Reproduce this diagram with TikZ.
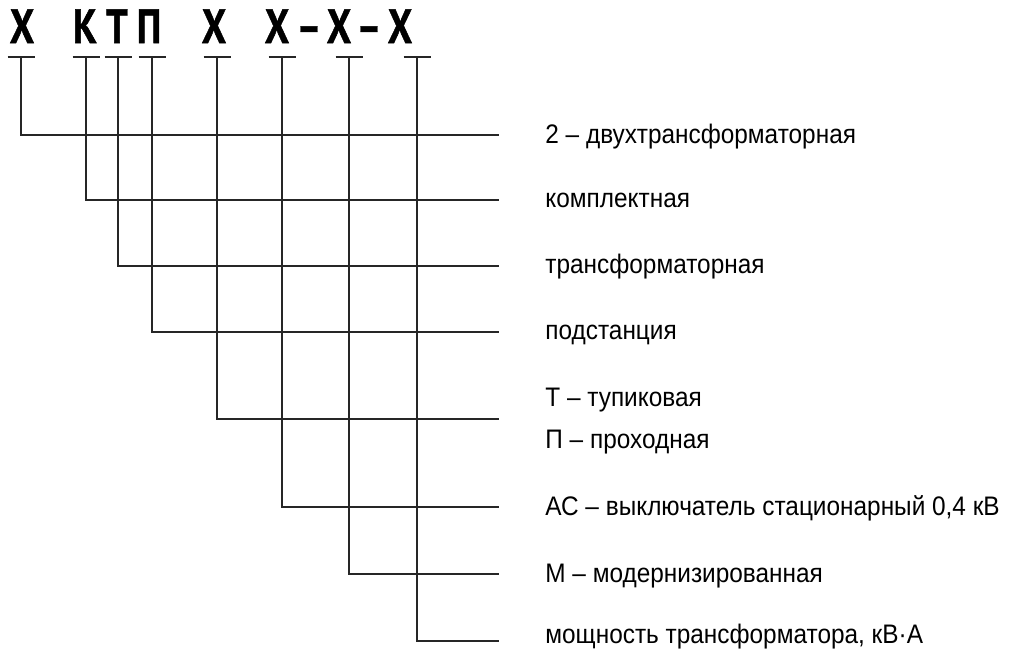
\documentclass[tikz,border=0pt]{standalone}
\usepackage{fontspec}
\setmainfont{Liberation Sans}
\newfontfamily\codefamily{PT Sans}[BoldFeatures={FakeBold=1.2}]
\newfontfamily\lblfamily{Liberation Sans}[FakeStretch=0.91]
\newcommand\narrowch[1]{\scalebox{0.8}[1]{#1}}

\begin{document}
\begin{tikzpicture}[
  x=0.5pt,
  y=-0.5pt,
  code/.style={font=\codefamily\bfseries\fontsize{24pt}{26pt}\selectfont,
    anchor=base,inner sep=0pt},
  lbl/.style={font=\lblfamily\fontsize{13.4pt}{16pt}\selectfont,
    anchor=base west,inner sep=0pt},
  lead/.style={black!85,line width=0.55pt}
]
  \useasboundingbox (0,0) rectangle (1014,649);
  \def\tickrow{57}
  \def\leadend{499}
  \def\lblx{545}

  % Designation letters.
  \foreach \n/\cx/\ch in {c1/22/Х,c2/85/К,c3/117/Т,c4/149/П,c5/214/Х,
    c6/277/Х,h1/309/–,c7/339/Х,h2/369/–,c8/400/Х}
    \node[code] (\n) at (\cx,43) {\narrowch{\ch}};

  % Leaders: tick under each position, then down and across.
  \foreach \i/\tx/\ly in {1/21/135,2/86/200,3/118/266,4/152/332,
    5/217/419,6/282/507,7/349/574,8/417/641}
    {
      \coordinate (t\i) at (\tx,\tickrow);
      \coordinate (e\i) at (\leadend,\ly);
      \draw[lead] (t\i) +(-13.5,0) -- +(13.5,0);
      \draw[lead] (t\i) |- (e\i);
    }

  % Explanations.
  \foreach \n/\by/\lab in {d1/143/{2 – двухтрансформаторная},
    d2/207/{комплектная},d3/273/{трансформаторная},
    d4/339/{подстанция},d5a/406/{Т – тупиковая},
    d5b/448/{П – проходная},
    d6/515/{АС – выключатель стационарный 0,4 кВ},
    d7/582/{М – модернизированная},
    d8/643/{мощность трансформатора, кВ·А}}
    \node[lbl] (\n) at (\lblx,\by) {\lab};
\end{tikzpicture}
\end{document}
